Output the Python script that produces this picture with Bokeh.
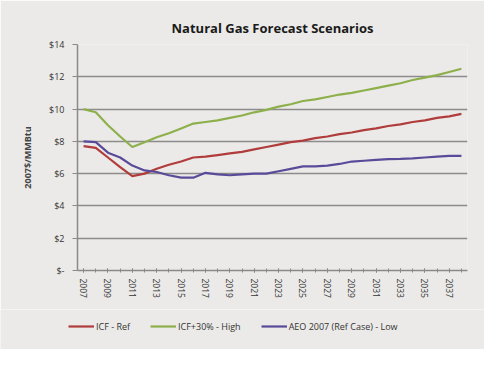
from bokeh.plotting import figure
from bokeh.models import Range1d, FixedTicker, Legend, LegendItem
from bokeh.layouts import column
from bokeh.embed import file_html
from bokeh.resources import INLINE

years = list(range(2007, 2039))
icf_ref = [7.7, 7.6, 7.0, 6.4, 5.85, 6.0, 6.3, 6.55, 6.75, 7.0, 7.05, 7.15, 7.25, 7.35, 7.5, 7.65,
           7.8, 7.95, 8.05, 8.2, 8.3, 8.45, 8.55, 8.7, 8.8, 8.95, 9.05, 9.2, 9.3, 9.45, 9.55, 9.7]
icf_high = [10.0, 9.8, 9.0, 8.3, 7.65, 7.95, 8.25, 8.5, 8.8, 9.1, 9.2, 9.3, 9.45, 9.6, 9.8, 9.95,
            10.15, 10.3, 10.5, 10.6, 10.75, 10.9, 11.0, 11.15, 11.3, 11.45, 11.6, 11.8, 11.95, 12.1, 12.3, 12.5]
aeo_low = [8.0, 7.95, 7.3, 7.0, 6.5, 6.2, 6.1, 5.9, 5.75, 5.75, 6.05, 5.95, 5.9, 5.95, 6.0, 6.0,
           6.15, 6.3, 6.45, 6.45, 6.5, 6.6, 6.75, 6.8, 6.85, 6.9, 6.92, 6.95, 7.0, 7.05, 7.1, 7.1]
series_names = ["ICF - Ref", "ICF+30% - High", "AEO 2007 (Ref Case) - Low"]
y_ticks = [0, 2, 4, 6, 8, 10, 12, 14]
y_labels = ["$-", "$2", "$4", "$6", "$8", "$10", "$12", "$14"]
x_tick_years = list(range(2007, 2038, 2))

BG = "#ebeae8"
FONT = "Open Sans"
colors = ["#b03c3b", "#8db04c", "#5a4a9a"]
series = [icf_ref, icf_high, aeo_low]

p = figure(width=484, height=309, output_backend="svg", toolbar_location=None,
           x_range=Range1d(2006.5, 2038.5), y_range=Range1d(0, 14),
           background_fill_color=BG, border_fill_color=BG,
           min_border_left=77, min_border_right=17, min_border_top=44, min_border_bottom=39)
p.outline_line_color = None

p.title.text = "Natural Gas Forecast Scenarios"
p.title.align = "center"
p.title.text_font = FONT
p.title.text_font_size = "13px"
p.title.text_font_style = "bold"
p.title.text_color = "#1a1a1a"
p.title.standoff = 16

for vals, c in zip(series, colors):
    p.line(years, vals, line_color=c, line_width=2.2)

xa = p.xaxis[0]
xa.ticker = FixedTicker(ticks=x_tick_years, minor_ticks=years)
xa.major_label_orientation = "vertical"
xa.major_label_text_font = FONT
xa.major_label_text_font_size = "8.5px"
xa.major_label_text_color = "#333333"
xa.axis_line_color = "#8a8a8a"
xa.axis_line_width = 1.5
xa.major_tick_line_color = "#8a8a8a"
xa.minor_tick_line_color = "#8a8a8a"
xa.major_tick_in = 2
xa.major_tick_out = 2
xa.minor_tick_in = 2
xa.minor_tick_out = 2
xa.major_label_standoff = 6

ya = p.yaxis[0]
ya.ticker = FixedTicker(ticks=y_ticks, minor_ticks=[])
ya.major_label_overrides = {t: l for t, l in zip(y_ticks, y_labels)}
ya.major_label_text_font = FONT
ya.major_label_text_font_size = "9px"
ya.major_label_text_color = "#333333"
ya.axis_line_color = "#8a8a8a"
ya.axis_line_width = 1.5
ya.major_tick_line_color = "#8a8a8a"
ya.major_tick_in = 0
ya.major_tick_out = 5
ya.major_label_standoff = 8
ya.axis_label = "2007$/MMBtu"
ya.axis_label_text_font = FONT
ya.axis_label_text_font_size = "9px"
ya.axis_label_text_font_style = "bold"
ya.axis_label_standoff = 12

p.xgrid.grid_line_color = None
p.ygrid.grid_line_color = "#8c8c8c"
p.ygrid.grid_line_width = 1.5

# Legend strip below the chart (same series, drawn outside its own view)
lg = figure(width=484, height=40, output_backend="svg", toolbar_location=None,
            x_range=Range1d(0, 1), y_range=Range1d(0, 1),
            background_fill_color=BG, border_fill_color=BG,
            min_border_left=0, min_border_right=0, min_border_top=0, min_border_bottom=0)
lg.frame_align = False
lg.outline_line_color = None
lg.axis.visible = False
lg.grid.visible = False
lg_renderers = [lg.line(years, vals, line_color=c, line_width=2.2) for vals, c in zip(series, colors)]

legend = Legend(items=[LegendItem(label=n, renderers=[r]) for n, r in zip(series_names, lg_renderers)],
                orientation="horizontal", location=(68, 13))
legend.background_fill_alpha = 0
legend.border_line_color = None
legend.label_text_font = FONT
legend.label_text_font_size = "9px"
legend.label_text_color = "#333333"
legend.glyph_width = 26
legend.label_standoff = 2
legend.spacing = 20
legend.margin = 0
legend.padding = 4
lg.add_layout(legend, "center")

layout = column(p, lg, spacing=0)
html = file_html(layout, INLINE)
open("out.html", "w").write(html)
